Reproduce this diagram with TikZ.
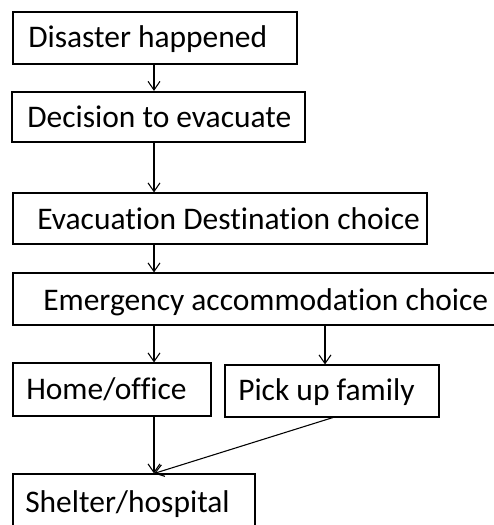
\documentclass[tikz,border=0pt]{standalone}
\usepackage{fontspec}
\setmainfont{Carlito}[Ligatures={NoCommon}]
\usetikzlibrary{arrows.meta,fit,calc}
\begin{document}
\begin{tikzpicture}[x=0.75pt,y=-0.75pt,
  box/.style={draw=black,line width=0.8pt,inner sep=0pt,rectangle},
  thickbox/.style={box,line width=1.6pt},
  lbl/.style={anchor=base west,inner sep=0pt,font=\fontsize{23.6}{26}\selectfont},
  arr/.style={draw=black,line width=0.8pt,-{Straight Barb[length=6.5pt,width=9pt,line width=0.8pt]}}]
\useasboundingbox (0,0) rectangle (493,525);
\node[box,fit={(13,12)(297,64)}] (b1) {};
\node[thickbox,fit={(12,92)(305,142)}] (b2) {};
\node[box,fit={(13,193)(427,244)}] (b3) {};
\node[box,fit={(13,273)(500,325)}] (b4) {};
\node[box,fit={(13,363)(211,416)}] (b5) {};
\node[box,fit={(225,365)(439,417)}] (b6) {};
\node[box,fit={(13,474)(255,535)}] (b7) {};
\node[lbl] (t1) at (28,47) {Disaster happened};
\node[lbl] (t2) at (27,127) {Decision to evacuate};
\node[lbl] (t3) at (37,229) {Evacuation Destination choice};
\node[lbl] (t4) at (43,310) {Emergency accommodation choice};
\node[lbl] (t5) at (26,399) {Home/office};
\node[lbl] (t6) at (238,400) {Pick up family};
\node[lbl] (t7) at (25,512) {Shelter/hospital};
\coordinate (xa) at (154,0);
\coordinate (xb) at (325,0);
\coordinate (xc) at (333,0);
\draw[arr] (b1.south -| xa) -- (b2.north -| xa);
\draw[arr] (b2.south -| xa) -- (b3.north -| xa);
\draw[arr] (b3.south -| xa) -- (b4.north -| xa);
\draw[arr] (b4.south -| xa) -- (b5.north -| xa);
\draw[arr] (b4.south -| xb) -- (b6.north -| xb);
\draw[arr] (b5.south -| xa) -- (b7.north -| xa);
\draw[arr] (b6.south -| xc) -- (b7.north -| xa);
\end{tikzpicture}
\end{document}
